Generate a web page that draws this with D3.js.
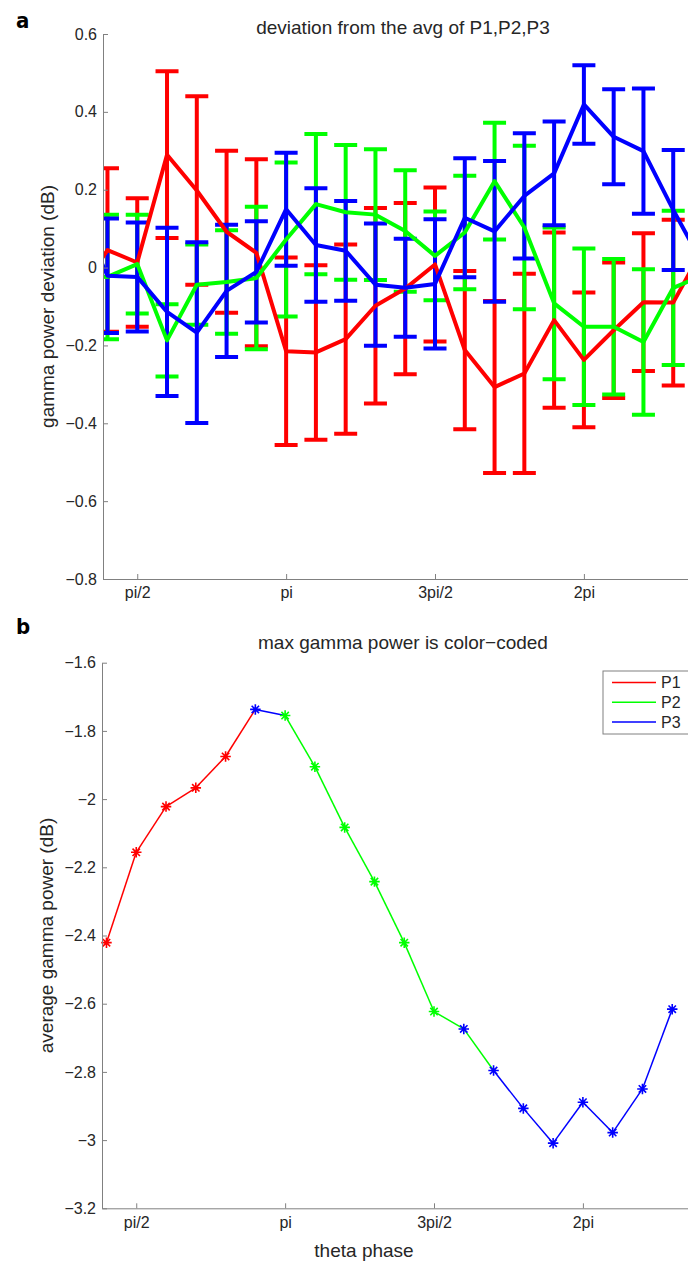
<!DOCTYPE html>
<html>
<head>
<meta charset="utf-8">
<script src="https://d3js.org/d3.v7.min.js"></script>
<style>
  body { margin:0; background:white; }
  text { font-family:"Liberation Sans", Arial, sans-serif; fill:#262626; }
  .tick text { font-size:16px; }
  .title, .axlabel { font-size:19px; }
  .panel { font-family:"DejaVu Sans Condensed","Liberation Sans Narrow","Liberation Sans",sans-serif; font-stretch:condensed; font-weight:bold; font-size:22px; fill:#000; }
  .domain, .tick line { stroke:#808080; }
</style>
</head>
<body>
<script>
// theta phase of each bin, in units of pi
var phaseA = [0.3,0.4,0.5,0.6,0.7,0.8,0.9,1.0,1.1,1.2,1.3,1.4,1.5,1.6,1.7,1.8,1.9,2.0,2.1,2.2,2.3,2.4];
// deviation from the avg of P1,P2,P3 (dB), mean and error
var p1Dev = [-0.07,0.045,0.013,0.29,0.198,0.092,0.038,-0.215,-0.218,-0.184,-0.098,-0.054,0.008,-0.212,-0.307,-0.272,-0.135,-0.237,-0.161,-0.089,-0.090,0.05];
var p1Err = [0.2,0.21,0.165,0.214,0.242,0.208,0.24,0.241,0.224,0.243,0.251,0.22,0.198,0.203,0.221,0.256,0.225,0.173,0.174,0.177,0.213,0.2];
var p2Dev = [-0.02,-0.024,0.009,-0.187,-0.044,-0.037,-0.027,0.072,0.163,0.142,0.136,0.094,0.03,0.09,0.222,0.103,-0.092,-0.152,-0.152,-0.191,-0.052,-0.02];
var p2Err = [0.15,0.16,0.127,0.093,0.103,0.133,0.183,0.198,0.18,0.173,0.168,0.156,0.114,0.146,0.15,0.21,0.195,0.201,0.174,0.187,0.198,0.18];
var p3Dev = [0.15,-0.021,-0.024,-0.114,-0.167,-0.06,-0.011,0.15,0.058,0.043,-0.044,-0.052,-0.042,0.128,0.093,0.184,0.242,0.419,0.336,0.299,0.148,0.008];
var p3Err = [0.15,0.147,0.14,0.216,0.232,0.17,0.13,0.145,0.146,0.128,0.157,0.126,0.166,0.153,0.181,0.161,0.133,0.101,0.122,0.161,0.154,0.15];

// panel b
var phaseB = [0.4,0.5,0.6,0.7,0.8,0.9,1.0,1.1,1.2,1.3,1.4,1.5,1.6,1.7,1.8,1.9,2.0,2.1,2.2,2.3];
var avgPower = [-2.421,-2.156,-2.022,-1.967,-1.875,-1.737,-1.755,-1.905,-2.083,-2.242,-2.421,-2.623,-2.674,-2.796,-2.907,-3.009,-2.889,-2.978,-2.850,-2.616];
var maxGroup = ["P1","P1","P1","P1","P1","P3","P2","P2","P2","P2","P2","P2","P3","P3","P3","P3","P3","P3","P3","P3"];
var segGroup = ["P1","P1","P1","P1","P1","P3","P2","P2","P2","P2","P2","P2","P2","P3","P3","P3","P3","P3","P3"];

var groups = ["P1","P2","P3"];
var xTickVals = [0.5,1,1.5,2];
var xTickLabels = ["pi/2","pi","3pi/2","2pi"];
var yTicksA = [-0.8,-0.6,-0.4,-0.2,0,0.2,0.4,0.6];
var yTicksB = [-3.2,-3,-2.8,-2.6,-2.4,-2.2,-2,-1.8,-1.6];

var colors = d3.scaleOrdinal().domain(groups).range(["#ff0000","#00ff00","#0000ff"]);

var width=688, height=1262;
var svg = d3.select("body").append("svg")
    .attr("width",width).attr("height",height)
    .style("background","white");

function tickText(d){ return xTickLabels[xTickVals.indexOf(d)]; }

// ---------- panel a ----------
var xa = d3.scaleLinear().domain([0.385,2.4]).range([103,703]);
var ya = d3.scaleLinear().domain([-0.8,0.6]).range([579,34]);

svg.append("clipPath").attr("id","clipA").append("rect")
   .attr("x",103).attr("y",0).attr("width",600).attr("height",600);

var seriesA = [
  {name:"P1", dev:p1Dev, err:p1Err},
  {name:"P2", dev:p2Dev, err:p2Err},
  {name:"P3", dev:p3Dev, err:p3Err}
];

var plotA = svg.append("g").attr("clip-path","url(#clipA)");
var cap = 11.5;

// error bars first
seriesA.forEach(function(s){
  plotA.append("g").selectAll("path").data(s.dev).enter().append("path")
    .attr("d",function(d,i){
      var x = xa(phaseA[i]), yt = ya(d+s.err[i]), yb = ya(d-s.err[i]);
      return "M"+(x-cap)+","+yt+"H"+(x+cap)+"M"+x+","+yt+"V"+yb+"M"+(x-cap)+","+yb+"H"+(x+cap);
    })
    .attr("fill","none").attr("stroke",colors(s.name)).attr("stroke-width",4);
});
// then mean lines
var lineA = d3.line().x(function(d,i){return xa(phaseA[i]);}).y(function(d){return ya(d);});
seriesA.forEach(function(s){
  plotA.append("path").attr("d",lineA(s.dev))
    .attr("fill","none").attr("stroke",colors(s.name))
    .attr("stroke-width",4).attr("stroke-linejoin","round");
});

svg.append("g").attr("transform","translate(0,579)")
   .call(d3.axisBottom(xa).tickValues(xTickVals).tickFormat(tickText)
         .tickSizeInner(-5).tickSizeOuter(0).tickPadding(8));
svg.append("g").attr("transform","translate(103,0)")
   .call(d3.axisLeft(ya).tickValues(yTicksA).tickFormat(d3.format(""))
         .tickSizeInner(-5).tickSizeOuter(0).tickPadding(6));

svg.append("text").classed("title",true).attr("x",403).attr("y",34)
   .attr("text-anchor","middle").text("deviation from the avg of P1,P2,P3");
svg.append("text").classed("axlabel",true)
   .attr("transform","translate(54,306.5) rotate(-90)")
   .attr("text-anchor","middle").text("gamma power deviation (dB)");
svg.append("text").classed("panel",true).attr("x",16).attr("y",28).text("a");

// ---------- panel b ----------
var xb = d3.scaleLinear().domain([0.385,2.4]).range([102,702]);
var yb = d3.scaleLinear().domain([-3.2,-1.6]).range([1208.3,662.7]);

var plotB = svg.append("g");
var segs = segGroup.map(function(g,i){ return {g:g, i:i}; });
plotB.selectAll(".seg").data(segs).enter().append("line").classed("seg",true)
  .attr("x1",function(d){return xb(phaseB[d.i]);})
  .attr("y1",function(d){return yb(avgPower[d.i]);})
  .attr("x2",function(d){return xb(phaseB[d.i+1]);})
  .attr("y2",function(d){return yb(avgPower[d.i+1]);})
  .attr("stroke",function(d){return colors(d.g);})
  .attr("stroke-width",1.5);

// matlab style '*' marker
var star = {draw:function(c,size){
  var r = Math.sqrt(size)/2, q = r*0.7071;
  c.moveTo(-r,0); c.lineTo(r,0);
  c.moveTo(0,-r); c.lineTo(0,r);
  c.moveTo(-q,-q); c.lineTo(q,q);
  c.moveTo(-q,q); c.lineTo(q,-q);
}};
plotB.selectAll(".mk").data(avgPower).enter().append("path").classed("mk",true)
  .attr("d",d3.symbol().type(star).size(110))
  .attr("transform",function(d,i){return "translate("+xb(phaseB[i])+","+yb(d)+")";})
  .attr("fill","none").attr("stroke",function(d,i){return colors(maxGroup[i]);})
  .attr("stroke-width",1.6);

svg.append("g").attr("transform","translate(0,1208.3)")
   .call(d3.axisBottom(xb).tickValues(xTickVals).tickFormat(tickText)
         .tickSizeInner(-5).tickSizeOuter(0).tickPadding(8));
svg.append("g").attr("transform","translate(102,0)")
   .call(d3.axisLeft(yb).tickValues(yTicksB).tickFormat(d3.format(""))
         .tickSizeInner(-5).tickSizeOuter(0).tickPadding(6));

svg.append("text").classed("title",true).attr("x",403).attr("y",649)
   .attr("text-anchor","middle").text("max gamma power is color\u2212coded");
svg.append("text").classed("axlabel",true).attr("x",364).attr("y",1257)
   .attr("text-anchor","middle").text("theta phase");
svg.append("text").classed("axlabel",true)
   .attr("transform","translate(53,935.5) rotate(-90)")
   .attr("text-anchor","middle").text("average gamma power (dB)");
svg.append("text").classed("panel",true).attr("x",16).attr("y",634).text("b");

// legend
var legend = svg.append("g").attr("transform","translate(603,671)");
legend.append("rect").attr("width",100).attr("height",63)
  .attr("fill","white").attr("stroke","#808080").attr("stroke-width",1);
var items = legend.selectAll(".legends").data(groups).enter().append("g").classed("legends",true)
  .attr("transform",function(d,i){return "translate(0,"+(11.5+i*19.7)+")";});
items.append("line").attr("x1",9).attr("x2",53)
  .attr("stroke",function(d){return colors(d);}).attr("stroke-width",1.5);
items.append("text").attr("x",58).attr("dy","0.35em").style("font-size","16px").text(function(d){return d;});
</script>
</body>
</html>
